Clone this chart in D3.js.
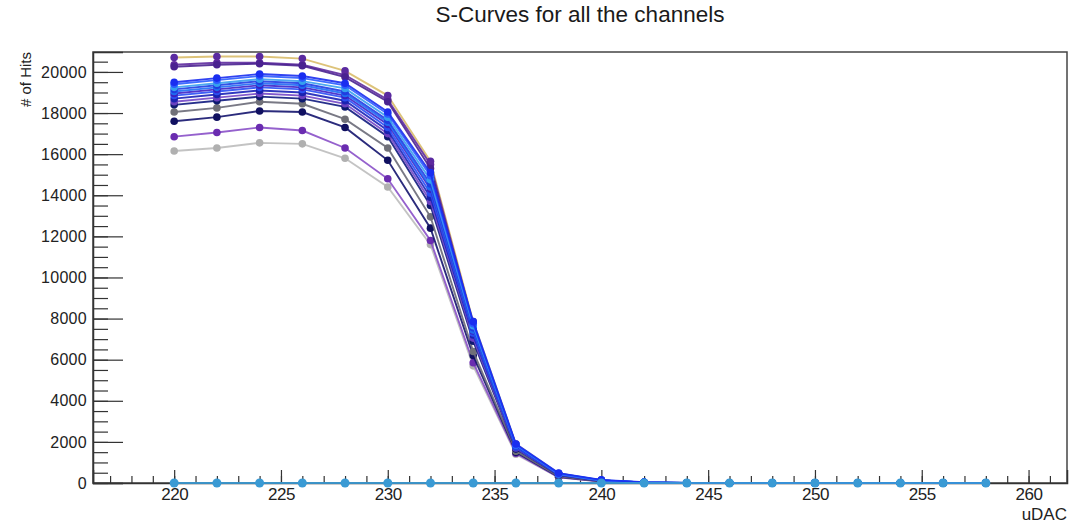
<!DOCTYPE html>
<html>
<head>
<meta charset="utf-8">
<script src="https://cdn.jsdelivr.net/npm/d3@7"></script>
<style>
  body { margin: 0; background: #fff; }
  text { font-family: "Liberation Sans", Arial, sans-serif; fill: #222; }
</style>
</head>
<body>
<div id="root"></div>
<script>
const width = 1076
const height = 523

// uDAC scan points
const udac = [220, 222, 224, 226, 228, 230, 232, 234, 236, 238, 240, 242, 244, 246, 248, 250, 252, 254, 256, 258]

// hits per channel, one array per channel
const chGold   = [20700, 20750, 20750, 20650, 20050, 18850, 15650, 7850, 1900, 460, 130, 30, 0, 0, 0, 0, 0, 0, 0, 0]
const chPurA   = [20350, 20450, 20450, 20350, 19850, 18650, 15500, 7750, 1850, 430, 110, 20, 0, 0, 0, 0, 0, 0, 0, 0]
const chPurB   = [20250, 20350, 20400, 20300, 19750, 18550, 15300, 7650, 1800, 410, 100, 20, 0, 0, 0, 0, 0, 0, 0, 0]
const chBlue1  = [19500, 19700, 19900, 19800, 19450, 18050, 15100, 7850, 1900, 480, 150, 40, 0, 0, 0, 0, 0, 0, 0, 0]
const chBlue2  = [19400, 19600, 19800, 19700, 19350, 17950, 14950, 7750, 1850, 460, 140, 30, 0, 0, 0, 0, 0, 0, 0, 0]
const chBlue3  = [19250, 19450, 19650, 19550, 19200, 17800, 14750, 7650, 1850, 450, 130, 30, 0, 0, 0, 0, 0, 0, 0, 0]
const chBlue4  = [19150, 19350, 19550, 19450, 19050, 17650, 14550, 7550, 1800, 440, 130, 30, 0, 0, 0, 0, 0, 0, 0, 0]
const chBlue5  = [19050, 19250, 19450, 19350, 18950, 17550, 14400, 7450, 1800, 430, 120, 30, 0, 0, 0, 0, 0, 0, 0, 0]
const chBlue6  = [18950, 19150, 19350, 19250, 18850, 17450, 14300, 7400, 1800, 420, 120, 30, 0, 0, 0, 0, 0, 0, 0, 0]
const chBlue7  = [18850, 19050, 19250, 19150, 18750, 17300, 14100, 7300, 1750, 420, 120, 20, 0, 0, 0, 0, 0, 0, 0, 0]
const chBlue8  = [18700, 18900, 19100, 19000, 18600, 17150, 13900, 7200, 1750, 400, 110, 20, 0, 0, 0, 0, 0, 0, 0, 0]
const chBlue9  = [18550, 18750, 18950, 18850, 18450, 17000, 13700, 7050, 1700, 400, 110, 20, 0, 0, 0, 0, 0, 0, 0, 0]
const chBlue10 = [18400, 18600, 18800, 18700, 18300, 16850, 13500, 6900, 1650, 380, 100, 20, 0, 0, 0, 0, 0, 0, 0, 0]
const chGray   = [18050, 18250, 18550, 18450, 17700, 16300, 12950, 6400, 1550, 320, 80, 10, 0, 0, 0, 0, 0, 0, 0, 0]
const chNavy   = [17600, 17800, 18100, 18050, 17300, 15700, 12400, 6200, 1500, 300, 80, 10, 0, 0, 0, 0, 0, 0, 0, 0]
const chPurC   = [16850, 17050, 17300, 17150, 16300, 14800, 11800, 5850, 1450, 280, 70, 10, 0, 0, 0, 0, 0, 0, 0, 0]
const chLight  = [16150, 16300, 16550, 16500, 15800, 14400, 11600, 5700, 1400, 280, 70, 10, 0, 0, 0, 0, 0, 0, 0, 0]
const chDead   = [0, 0, 0, 0, 0, 0, 0, 0, 0, 0, 0, 0, 0, 0, 0, 0, 0, 0, 0, 0]

const channels = [chGold, chPurA, chPurB, chLight, chPurC, chNavy, chGray,
  chBlue10, chBlue9, chBlue8, chBlue7, chBlue6, chBlue5, chBlue4, chBlue3, chBlue2, chBlue1, chDead]
const lineColors = ['#d9bc6a', '#5e2a9e', '#4a2290', '#bdbdbd', '#8a50c8', '#14146e', '#6a6a78',
  '#0f1a80', '#7448c8', '#1a22b8', '#2a4ef5', '#3d22c8', '#1e6cf5', '#1f3ee6', '#3aa0f0', '#2a5cff', '#1a2ef0', '#3a9ad4']
const markerColors = ['#5a2aa0', '#5e2a9e', '#4a2290', '#b0b0b0', '#6a2cb0', '#101060', '#707078',
  '#0e1a70', '#6a40c0', '#1a22b0', '#2a4ef0', '#3a20c0', '#1e6cf0', '#1f3ee0', '#35a0ee', '#2a5cff', '#1a2ef0', '#3a9ad4']

const xTicks = [220, 225, 230, 235, 240, 245, 250, 255, 260]
const yTicks = [0, 2000, 4000, 6000, 8000, 10000, 12000, 14000, 16000, 18000, 20000]

const padL = 93, padR = 1067, padT = 52, padB = 483

const x = d3.scaleLinear().domain([216.2, 261.8]).range([padL, padR])
const y = d3.scaleLinear().domain([0, 20970]).range([padB, padT])

const svg = d3.select('#root').append('svg')
  .attr('width', width)
  .attr('height', height)

svg.append('text')
  .attr('x', (padL + padR) / 2)
  .attr('y', 22)
  .attr('text-anchor', 'middle')
  .style('font-size', '22.5px')
  .style('fill', '#1a1a1a')
  .text('S-Curves for all the channels')

// frame
svg.append('rect')
  .attr('x', padL)
  .attr('y', padT)
  .attr('width', padR - padL)
  .attr('height', padB - padT)
  .attr('fill', 'none')
  .attr('stroke', '#444')
  .attr('stroke-width', 1.5)

// x axis, ticks pointing up
const xMinor = d3.range(217, 262, 1)
svg.append('g')
  .attr('transform', `translate(0,${padB})`)
  .call(d3.axisBottom(x).tickValues(xMinor).tickSize(-7).tickFormat(''))
  .call(g => g.select('.domain').remove())
  .call(g => g.selectAll('line').attr('stroke', '#333').attr('stroke-width', 1.2))

svg.append('g')
  .attr('transform', `translate(0,${padB})`)
  .call(d3.axisBottom(x).tickValues(xTicks).tickSize(-13).tickPadding(0).tickFormat(d3.format('d')))
  .call(g => g.select('.domain').attr('stroke', '#333').attr('stroke-width', 1.5))
  .call(g => g.selectAll('line').attr('stroke', '#333').attr('stroke-width', 1.2))
  .call(g => g.selectAll('text')
    .attr('y', 17)
    .attr('dy', 0)
    .style('font-size', '17px')
    .style('letter-spacing', '-0.5px')
    .attr('fill', '#1a1a1a'))

// y axis, ticks pointing right
const yMinor = d3.range(0, 21000, 500)
svg.append('g')
  .attr('transform', `translate(${padL},0)`)
  .call(d3.axisLeft(y).tickValues(yMinor).tickSize(-15).tickFormat(''))
  .call(g => g.select('.domain').remove())
  .call(g => g.selectAll('line').attr('stroke', '#333').attr('stroke-width', 1.2))

svg.append('g')
  .attr('transform', `translate(${padL},0)`)
  .call(d3.axisLeft(y).tickValues(yTicks).tickSize(-30).tickPadding(0).tickFormat(d3.format('d')))
  .call(g => g.select('.domain').attr('stroke', '#333').attr('stroke-width', 1.5))
  .call(g => g.selectAll('line').attr('stroke', '#333').attr('stroke-width', 1.2))
  .call(g => g.selectAll('text')
    .attr('x', -6)
    .style('font-size', '16px')
    .style('letter-spacing', '0.3px')
    .attr('fill', '#1a1a1a'))

svg.selectAll('.tick text').style('font-family', '"Liberation Sans", Arial, sans-serif')

// curves, drawn over the axes
const line = d3.line()
  .x((d, i) => x(udac[i]))
  .y(d => y(d))

const plot = svg.append('g')

channels.forEach((ch, k) => {
  const dead = k === channels.length - 1
  plot.append('path')
    .datum(ch)
    .attr('d', line)
    .attr('fill', 'none')
    .attr('stroke', lineColors[k])
    .attr('stroke-width', dead ? 2.2 : 1.9)
    .attr('opacity', 0.9)
  plot.selectAll(null)
    .data(ch)
  .enter().append('circle')
    .attr('cx', (d, i) => x(udac[i]))
    .attr('cy', d => y(d))
    .attr('r', dead ? 4.5 : 3.8)
    .attr('fill', markerColors[k])
})

// axis titles
svg.append('text')
  .attr('transform', `translate(31,${padT}) rotate(-90)`)
  .attr('text-anchor', 'end')
  .style('font-size', '15px')
  .text('# of Hits')

svg.append('text')
  .attr('x', padR)
  .attr('y', 520)
  .attr('text-anchor', 'end')
  .style('font-size', '17px')
  .text('uDAC')
</script>
</body>
</html>
